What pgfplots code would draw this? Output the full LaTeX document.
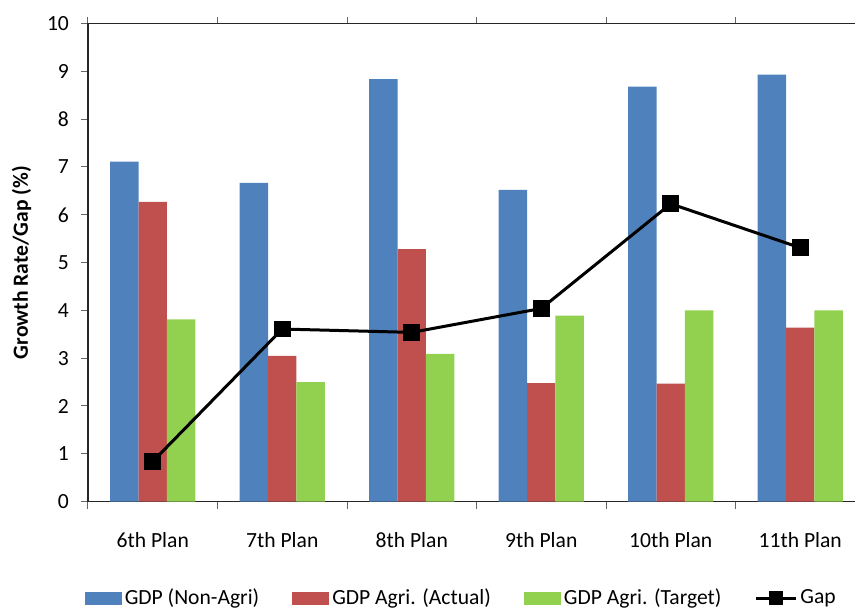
\documentclass[border=0pt]{standalone}
\usepackage{pgfplots}
\pgfplotsset{compat=1.18}
\usepackage{fontspec}
\setmainfont{Carlito}

\definecolor{nonagri}{HTML}{4F81BD}
\definecolor{agriact}{HTML}{C0504D}
\definecolor{agritgt}{HTML}{92D050}

\newcommand{\lblfont}{\fontsize{10.8pt}{13pt}\selectfont}

\pgfplotsset{
  barswatch/.style={
    legend image code/.code={\fill[##1] (0pt,-3.25pt) rectangle (18.5pt,3.25pt);}
  },
  gapswatch/.style={
    legend image code/.code={%
      \draw[##1, mark=none] (0pt,0pt) -- (20pt,0pt);
      \draw[##1, mark size=2.8pt] plot coordinates {(10pt,0pt)};}
  },
}

\begin{document}
\begin{tikzpicture}
\begin{axis}[
  at={(44pt,53.2pt)}, anchor=south west,
  scale only axis, width=388.5pt, height=239pt,
  xmin=-0.5, xmax=5.5, ymin=0, ymax=10,
  axis line style={line width=0.8pt, black!85},
  /pgf/number format/assume math mode=true,
  tick align=outside,
  ytick={0,...,10},
  major tick length=3.5pt,
  tick style={black!60, line width=0.5pt},
  yticklabel style={font=\lblfont, xshift=-2.5pt},
  xtick={-0.5,0.5,...,5.5},
  xticklabels={},
  extra x ticks={0,...,5},
  extra x tick labels={6th Plan,7th Plan,8th Plan,9th Plan,10th Plan,11th Plan},
  extra x tick style={major tick length=0pt, xticklabel style={font=\lblfont, yshift=-12pt}},
  ylabel={\bfseries Growth Rate/Gap (\%)},
  ylabel style={font=\lblfont, at={(axis description cs:-0.0855,0.5)}, anchor=center},
  legend columns=4,
  legend style={
    draw=none, fill=none, font=\lblfont,
    at={(0.481,-0.2017)}, anchor=center,
    /tikz/every even column/.append style={column sep=15pt},
    nodes={inner xsep=1.5pt},
  },
]
% GDP growth outside agriculture
\addplot[ybar, bar width=0.22, bar shift=-0.22, fill=nonagri, draw=none, barswatch]
  coordinates {(0,7.11) (1,6.67) (2,8.84) (3,6.52) (4,8.68) (5,8.93)};
\addlegendentry{GDP (Non-Agri)}
% realised agricultural growth
\addplot[ybar, bar width=0.22, bar shift=0, fill=agriact, draw=none, barswatch]
  coordinates {(0,6.27) (1,3.05) (2,5.28) (3,2.48) (4,2.47) (5,3.64)};
\addlegendentry{GDP Agri. (Actual)}
% planned agricultural growth
\addplot[ybar, bar width=0.22, bar shift=0.22, fill=agritgt, draw=none, barswatch]
  coordinates {(0,3.81) (1,2.50) (2,3.09) (3,3.89) (4,4.00) (5,4.00)};
\addlegendentry{GDP Agri. (Target)}
% gap between non-agricultural and agricultural growth
\addplot[black, line width=1.5pt, mark=square*, mark size=3.4pt, gapswatch]
  coordinates {(0,0.84) (1,3.61) (2,3.54) (3,4.04) (4,6.23) (5,5.31)};
\addlegendentry{Gap}
\end{axis}
\pgfresetboundingbox
\useasboundingbox (0,0) rectangle (427.5pt,304pt);
\end{tikzpicture}
\end{document}
